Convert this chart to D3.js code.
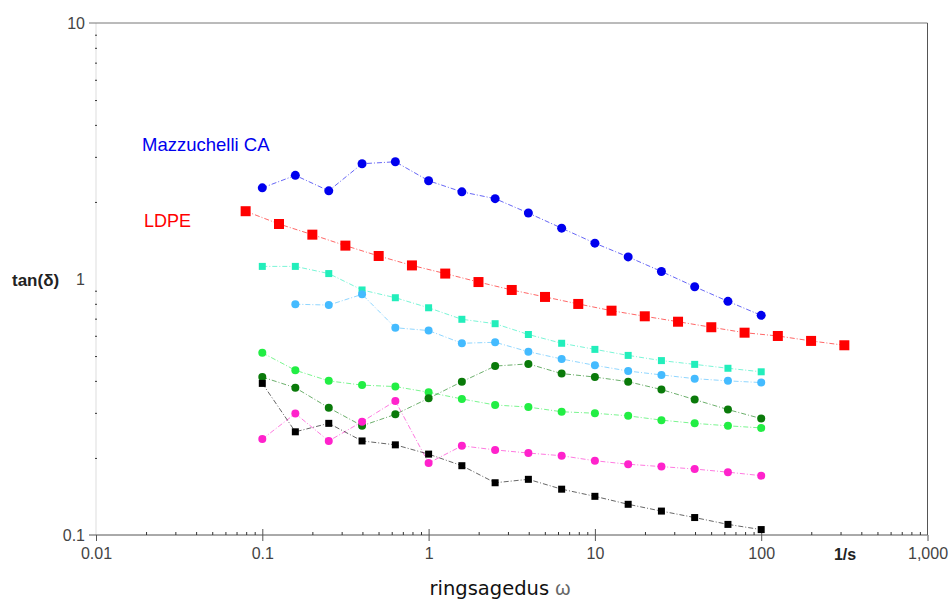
<!DOCTYPE html>
<html lang="en">
<head>
<meta charset="utf-8">
<title>tan(delta)</title>
<script src="https://d3js.org/d3.v7.min.js"></script>
<style type="text/css">
  body { margin: 0; background: #fff; }
  .axis text { font-family: "Liberation Sans", Arial, sans-serif; font-size: 16px; fill: #444; }
  .axis path { display: none; }
</style>
</head>
<body>
<div id="chart"></div>
<script type="text/javascript">
// frequencies (1/s)
var freq = [0.1, 0.158, 0.251, 0.398, 0.631, 1, 1.585, 2.512, 3.981, 6.31, 10, 15.85, 25.12, 39.81, 63.1, 100];
var freqLdpe = [0.0794, 0.126, 0.2, 0.316, 0.501, 0.794, 1.259, 1.995, 3.162, 5.012, 7.943, 12.59, 19.95, 31.62, 50.12, 79.43, 125.9, 199.5, 316.2];

// tan(delta) values
var mazzuchelli = [2.27, 2.54, 2.21, 2.82, 2.87, 2.42, 2.19, 2.06, 1.81, 1.58, 1.38, 1.22, 1.07, 0.933, 0.818, 0.721];
var ldpe = [1.84, 1.64, 1.49, 1.35, 1.23, 1.13, 1.05, 0.973, 0.906, 0.851, 0.799, 0.752, 0.715, 0.681, 0.648, 0.617, 0.599, 0.573, 0.551];
var cyan = [1.12, 1.12, 1.05, 0.906, 0.845, 0.772, 0.696, 0.669, 0.607, 0.561, 0.531, 0.503, 0.48, 0.464, 0.448, 0.434];
var skyblue = [null, 0.797, 0.791, 0.871, 0.645, 0.629, 0.561, 0.566, 0.52, 0.487, 0.46, 0.437, 0.422, 0.408, 0.4, 0.394];
var lightgreen = [0.515, 0.44, 0.4, 0.385, 0.38, 0.361, 0.34, 0.322, 0.316, 0.303, 0.299, 0.292, 0.281, 0.273, 0.267, 0.262];
var darkgreen = [0.414, 0.376, 0.314, 0.267, 0.296, 0.342, 0.397, 0.457, 0.466, 0.427, 0.414, 0.397, 0.37, 0.338, 0.309, 0.285];
var magenta = [0.237, 0.298, 0.233, 0.277, 0.334, 0.191, 0.223, 0.215, 0.209, 0.204, 0.195, 0.189, 0.185, 0.181, 0.176, 0.1705];
var black = [0.391, 0.253, 0.273, 0.233, 0.225, 0.207, 0.1865, 0.16, 0.165, 0.151, 0.1416, 0.1318, 0.124, 0.117, 0.11, 0.105];

var xTicks = [0.01, 0.1, 1, 10, 100, 1000];
var xTickLabels = ["0.01", "0.1", "1", "10", "100", "1,000"];
var yTicks = [0.1, 1, 10];
var yTickLabels = ["0.1", "1", "10"];

var series = [
  {x: freqLdpe, y: ldpe, color: "#ff0000", shape: "square", size: 10},
  {x: freq, y: mazzuchelli, color: "#0000ee", shape: "circle", size: 9},
  {x: freq, y: cyan, color: "#22eebb", shape: "square", size: 7},
  {x: freq, y: skyblue, color: "#44bbff", shape: "circle", size: 8},
  {x: freq, y: lightgreen, color: "#22ee44", shape: "circle", size: 8},
  {x: freq, y: darkgreen, color: "#0a7a0a", shape: "circle", size: 8},
  {x: freq, y: magenta, color: "#ff22cc", shape: "circle", size: 8},
  {x: freq, y: black, color: "#000000", shape: "square", size: 7}
];

var w = 952, h = 601;
var plotLeft = 96, plotRight = 927.5, plotTop = 23, plotBottom = 535;

var svg = d3.select("#chart").append("svg")
    .attr("width", w)
    .attr("height", h);

var xScale = d3.scaleLog().domain([0.01, 1000]).range([plotLeft, plotRight]);
var yScale = d3.scaleLog().domain([0.1, 10]).range([plotBottom, plotTop]);

// minor ticks
var xMinor = [], yMinor = [];
[0.01, 0.1, 1, 10, 100].forEach(function (d) {
  for (var k = 2; k <= 9; k++) xMinor.push(d * k);
});
[0.1, 1].forEach(function (d) {
  for (var k = 2; k <= 9; k++) yMinor.push(d * k);
});

// frame
svg.append("line").attr("x1", plotLeft).attr("x2", plotLeft).attr("y1", plotTop).attr("y2", plotBottom)
    .attr("stroke", "#dddddd");
svg.append("line").attr("x1", 89).attr("x2", plotRight).attr("y1", plotTop).attr("y2", plotTop)
    .attr("stroke", "#777");
svg.append("line").attr("x1", plotRight).attr("x2", plotRight).attr("y1", plotTop).attr("y2", plotBottom)
    .attr("stroke", "#555");
svg.append("line").attr("x1", 89).attr("x2", plotRight).attr("y1", plotBottom).attr("y2", plotBottom)
    .attr("stroke", "#555");

// x axis
svg.append("g")
    .attr("class", "x axis")
    .attr("transform", "translate(0," + plotBottom + ")")
    .call(d3.axisBottom(xScale).tickValues(xTicks).tickSize(6).tickPadding(7)
      .tickFormat(function (d, i) { return xTickLabels[i]; }))
    .selectAll("line").attr("stroke", "#555");

svg.append("g")
    .attr("class", "axis")
    .attr("transform", "translate(0," + plotBottom + ")")
    .call(d3.axisBottom(xScale).tickValues(xTicks.slice(1, 5)).tickSize(-6).tickFormat(""))
    .selectAll("line").attr("stroke", "#555");

svg.append("g")
    .attr("class", "axis")
    .attr("transform", "translate(0," + plotBottom + ")")
    .call(d3.axisBottom(xScale).tickValues(xMinor).tickSize(-3).tickFormat(""))
    .selectAll("line").attr("stroke", "#333");

// y axis
svg.append("g")
    .attr("class", "y axis")
    .attr("transform", "translate(" + plotLeft + ",0)")
    .call(d3.axisLeft(yScale).tickValues(yTicks).tickSize(0).tickPadding(11)
      .tickFormat(function (d, i) { return yTickLabels[i]; }));

svg.append("g")
    .attr("class", "axis")
    .attr("transform", "translate(" + (plotLeft + 1) + ",0)")
    .call(d3.axisLeft(yScale).tickValues(yMinor).tickSize(2).tickFormat(""))
    .selectAll("line").attr("stroke", "#333");

// lines and markers
var line = d3.line()
    .defined(function (d) { return d[1] != null; })
    .x(function (d) { return xScale(d[0]); })
    .y(function (d) { return yScale(d[1]); });

series.forEach(function (s) {
  var pts = s.x.map(function (v, i) { return [v, s.y[i]]; });
  svg.append("path")
      .datum(pts)
      .attr("d", line)
      .attr("fill", "none")
      .attr("stroke", s.color)
      .attr("stroke-opacity", 0.6)
      .attr("stroke-width", 1)
      .attr("stroke-dasharray", "5,2,1,2");

  var dots = pts.filter(function (d) { return d[1] != null; });
  if (s.shape === "circle") {
    svg.selectAll(null).data(dots).enter().append("circle")
        .attr("cx", function (d) { return xScale(d[0]); })
        .attr("cy", function (d) { return yScale(d[1]); })
        .attr("r", s.size / 2)
        .attr("fill", s.color);
  } else {
    svg.selectAll(null).data(dots).enter().append("rect")
        .attr("x", function (d) { return xScale(d[0]) - s.size / 2; })
        .attr("y", function (d) { return yScale(d[1]) - s.size / 2; })
        .attr("width", s.size)
        .attr("height", s.size)
        .attr("fill", s.color);
  }
});

// labels
svg.append("text")
    .attr("x", 142).attr("y", 151)
    .attr("font-family", "Liberation Sans, Arial, sans-serif")
    .attr("font-size", "18.5px")
    .attr("fill", "#0000ee")
    .text("Mazzuchelli CA");

svg.append("text")
    .attr("x", 144).attr("y", 227)
    .attr("font-family", "Liberation Sans, Arial, sans-serif")
    .attr("font-size", "18px")
    .attr("fill", "#ff0000")
    .text("LDPE");

svg.append("text")
    .attr("x", 12).attr("y", 286)
    .attr("font-family", "Liberation Sans, Arial, sans-serif")
    .attr("font-size", "17px")
    .attr("font-weight", "bold")
    .attr("fill", "#222")
    .text("tan(δ)");

svg.append("text")
    .attr("x", 845).attr("y", 560)
    .attr("text-anchor", "middle")
    .attr("font-family", "Liberation Sans, Arial, sans-serif")
    .attr("font-size", "16px")
    .attr("font-weight", "bold")
    .attr("fill", "#222")
    .text("1/s");

var title = svg.append("text")
    .attr("x", 500).attr("y", 595)
    .attr("text-anchor", "middle")
    .attr("font-family", "DejaVu Sans, Verdana, sans-serif")
    .attr("font-size", "19.5px")
    .attr("fill", "#111");
title.append("tspan").text("ringsagedus ");
title.append("tspan").attr("fill", "#666").attr("font-family", "Liberation Sans, Arial, sans-serif").text("ω");
</script>
</body>
</html>
